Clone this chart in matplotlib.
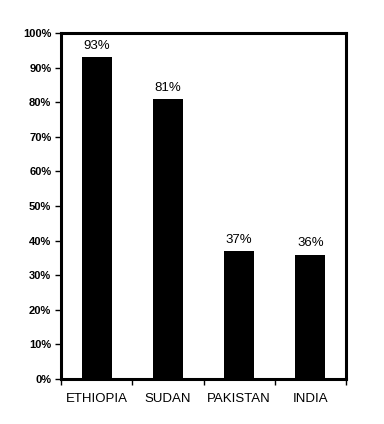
import numpy as np
import matplotlib
matplotlib.use("Agg")
import matplotlib.pyplot as plt
from matplotlib.ticker import FuncFormatter, FixedLocator

countries = ["ETHIOPIA", "SUDAN", "PAKISTAN", "INDIA"]
values = [93, 81, 37, 36]

plt.rcParams['font.family'] = ['Liberation Sans', 'DejaVu Sans']

fig = plt.figure(figsize=[3.84, 4.24], dpi=100)
ax = fig.add_axes([0.159, 0.106, 0.742, 0.816])

x = np.arange(len(countries))
ax.bar(x, values, width=0.42, color='black')
for xi, v in zip(x, values):
    ax.text(xi, v + 1.5, f"{v}%", ha='center', va='bottom', fontsize=9.5)

ax.set_xlim(-0.5, len(countries) - 0.5)
ax.set_ylim(0, 100)
ax.set_yticks(np.arange(0, 101, 10))
ax.yaxis.set_major_formatter(FuncFormatter(lambda v, p: f"{int(v)}%"))
for lab in ax.get_yticklabels():
    lab.set_fontweight('bold')
    lab.set_fontsize(8)

# ticks between categories, labels centered
ax.xaxis.set_major_locator(FixedLocator(np.arange(len(countries) + 1) - 0.5))
ax.xaxis.set_minor_locator(FixedLocator(x))
ax.set_xticklabels([])
ax.set_xticklabels(countries, minor=True, fontsize=9.5)
ax.tick_params(axis='x', which='minor', length=0, pad=10)
ax.tick_params(axis='x', which='major', length=4, width=1, direction='out')
ax.tick_params(axis='y', length=4, width=1, direction='out', pad=3)

for sp in ax.spines.values():
    sp.set_linewidth(2.2)

fig.savefig("out.png", dpi=100)
